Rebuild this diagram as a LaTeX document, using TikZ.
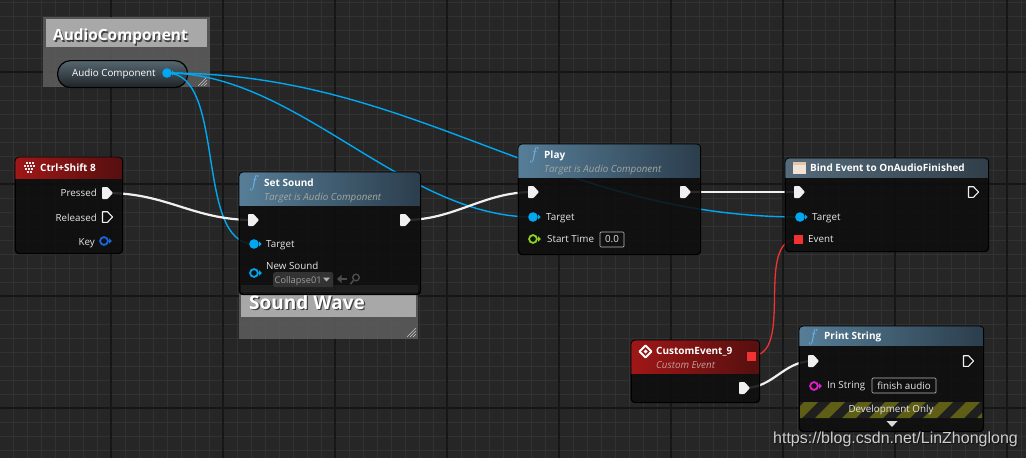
\documentclass[tikz,border=0pt]{standalone}
\usepackage{fontspec}
\setmainfont{Open Sans}
\newfontfamily\wmfont{Liberation Sans}
\usetikzlibrary{calc}
\definecolor{bg}{HTML}{262626}
\definecolor{gridfine}{HTML}{323232}
\definecolor{gridmajor}{HTML}{161616}
\definecolor{pinblue}{HTML}{00A8F2}
\definecolor{keyblue}{HTML}{1A66DC}
\definecolor{floatgreen}{HTML}{8CD41E}
\definecolor{strpink}{HTML}{E21ECE}
\definecolor{evred}{HTML}{F03232}
\definecolor{execw}{HTML}{F0F0F0}
\definecolor{nodebg}{HTML}{0E0E0E}
\definecolor{fnhl}{HTML}{5E88A4}
\definecolor{fnhr}{HTML}{2E4252}
\definecolor{bdhl}{HTML}{5C7384}
\definecolor{bdhr}{HTML}{34434F}
\definecolor{evhl}{HTML}{A81818}
\definecolor{evhr}{HTML}{5A1010}
\definecolor{lblc}{HTML}{E6E6E6}
\definecolor{subc}{HTML}{A2A8A2}
\definecolor{subred}{HTML}{C89A9A}
\definecolor{cmtbody}{HTML}{5E5E5E}
\definecolor{cmttitle}{HTML}{A8A8A8}
\definecolor{ficon}{HTML}{6AB4E8}
\definecolor{stripe}{HTML}{5E5E16}
\definecolor{gripc}{HTML}{C8C8C8}
\definecolor{pilltop}{HTML}{56666F}
\definecolor{pillmid}{HTML}{2C6F96}
\definecolor{pillbot}{HTML}{1E2428}
\begin{document}
\begin{tikzpicture}[x=1pt,y=-1pt,
  gfine/.style={draw=gridfine,line width=0.9pt},
  gmajor/.style={draw=gridmajor,line width=1.4pt},
  bpbody/.style={draw=black,line width=0.8pt,fill=nodebg,fill opacity=0.88,rounded corners=4pt,inner sep=0,anchor=north west},
  ttl/.style={font=\fontsize{10}{12}\selectfont\bfseries,text=white,inner sep=0,anchor=base west},
  sub/.style={font=\fontsize{9.8}{12}\selectfont\itshape,text=subc,inner sep=0,anchor=base west},
  lbl/.style={font=\fontsize{9.8}{12}\selectfont,text=lblc,inner sep=0,anchor=base west},
  lblr/.style={lbl,anchor=base east},
  valbox/.style={draw=white!72!black,line width=0.7pt,rounded corners=1pt,inner sep=0,font=\fontsize{9.8}{12}\selectfont,text=lblc},
  ficonst/.style={font=\fontsize{16}{16}\selectfont,text=ficon,inner sep=0,anchor=base west},
  wblue/.style={draw=pinblue,line width=1.4pt},
  wexec/.style={draw=execw,line width=2.2pt},
  wred/.style={draw=evred,line width=1.3pt},
  execf/.pic={\fill[execw,rounded corners=0.8pt] (-5,-6) -- (0.5,-6) -- (6,0) -- (0.5,6) -- (-5,6) -- cycle;},
  execo/.pic={\draw[execw,line width=1.1pt,line join=round] (-4.5,-5.3) -- (0.5,-5.3) -- (5.5,0) -- (0.5,5.3) -- (-4.5,5.3) -- cycle;},
  dataf/.pic={\fill[#1] (0,0) circle (4.8pt); \fill[#1] (5,-2.6) -- (7.6,0) -- (5,2.6) -- cycle;},
  datao/.pic={\draw[#1,line width=1.8pt] (0,0) circle (3.9pt); \fill[#1] (5.2,-2.6) -- (7.8,0) -- (5.2,2.6) -- cycle;},
  evsq/.pic={\fill[evred] (-4.5,-4.5) rectangle (4.5,4.5);},
  grip/.pic={\foreach \d in {3,6,9}{\draw[gripc,line width=0.6pt] (-\d,0) -- (0,-\d);}}
]
\useasboundingbox (0,0) rectangle (1026,458);
\fill[bg] (0,0) rectangle (1026,458);
% grid
\foreach \gx in {13,27,...,1026} {\draw[gfine] (\gx,0) -- (\gx,458);}
\foreach \gy in {2,16,...,458} {\draw[gfine] (0,\gy) -- (1026,\gy);}
\foreach \gx in {111,223,...,1026} {\draw[gmajor] (\gx,0) -- (\gx,458);}
\foreach \gy in {72,184,296,408} {\draw[gmajor] (0,\gy) -- (1026,\gy);}

% ---------- comment boxes ----------
\fill[cmtbody,opacity=0.85] (43,17) rectangle (210,87);
\fill[cmttitle] (46,19) rectangle (207,47);
\node[font=\fontsize{15.4}{16}\selectfont\bfseries,text=black!75,inner sep=0,anchor=base west] (acshadow) at (54.3,42) {AudioComponent};
\node[font=\fontsize{15.4}{16}\selectfont\bfseries,text=white,inner sep=0,anchor=base west] (actitle) at (53,40.7) {AudioComponent};
\pic at (207,86) {grip};

\fill[cmtbody,opacity=0.85] (239,291) rectangle (418,339);
\fill[cmttitle] (241,295) rectangle (416,317);
\node[font=\fontsize{19}{20}\selectfont\bfseries,text=black!75,inner sep=0,anchor=base west] (swshadow) at (250.3,310.3) {Sound Wave};
\node[font=\fontsize{19}{20}\selectfont\bfseries,text=white,inner sep=0,anchor=base west] (swtitle) at (249,309) {Sound Wave};
\pic at (416,337) {grip};

% ---------- variable getter pill ----------
\node[draw=black,line width=1.2pt,rounded corners=13pt,top color=pilltop,middle color=pillmid,bottom color=pillbot,minimum width=130pt,minimum height=27pt,inner sep=0,anchor=north west] (acvar) at (57,60) {};
\node[lbl,text=white] (acvarlbl) at (72,76.7) {Audio Component};
\coordinate (acpin) at (167,73);
\pic at (acpin) {dataf=pinblue};

% ---------- pin coordinates ----------
\coordinate (pressed) at (107,193);
\coordinate (released) at (107,217);
\coordinate (keypin) at (104,241);
\coordinate (ssin) at (253,220);
\coordinate (ssout) at (405,220);
\coordinate (sstgt) at (254,244);
\coordinate (sssnd) at (254,273);
\coordinate (plin) at (533,192);
\coordinate (plout) at (685,192);
\coordinate (pltgt) at (533,217);
\coordinate (plst) at (533,239);
\coordinate (bdin) at (799,192);
\coordinate (bdout) at (973,192);
\coordinate (bdtgt) at (800,217);
\coordinate (bdev) at (798,239);
\coordinate (ceev) at (751,356);
\coordinate (ceout) at (744,388);
\coordinate (psin) at (813,361);
\coordinate (psout) at (968,361);
\coordinate (psstr) at (814,386);

% ---------- wires ----------
\draw[wblue] (acpin) .. controls +(60,0) and +(-60,0) .. (sstgt);
\draw[wblue] (acpin) .. controls +(130,0) and +(-130,0) .. (pltgt);
\draw[wblue] (acpin) .. controls +(250,0) and +(-250,0) .. (bdtgt);
\draw[wexec] (pressed) .. controls +(60,0) and +(-60,0) .. (ssin);
\draw[wexec] (ssout) .. controls +(50,0) and +(-50,0) .. (plin);
\draw[wexec] (plout) -- (bdin);
\draw[wexec] (ceout) .. controls +(30,0) and +(-30,0) .. (psin);
\draw[wred] (ceev) .. controls +(45,0) and +(-45,0) .. (bdev);

% ---------- Ctrl+Shift 8 ----------
\node[bpbody,minimum width=107pt,minimum height=96pt] (ks) at (15,157) {};
\begin{scope}
\clip[rounded corners=4pt] (ks.north west) rectangle (ks.south east);
\shade[left color=evhl,right color=evhr,opacity=0.95] (ks.north west) rectangle ++(107,21);
\end{scope}
\draw[black,line width=0.8pt,rounded corners=4pt] (ks.north west) rectangle (ks.south east);
\foreach \cx/\cy in {26/162,29/162,32/162,24/165,27/165,30/165,33/165,25/168,28/168,31/168,27/171,30/171}
  {\fill[white!92!black] (\cx,\cy) rectangle ++(2.2,2.2);}
\node[ttl] (kstitle) at (40,171.7) {Ctrl+Shift 8};
\node[lblr] (kspressed) at (97,196.7) {Pressed};
\node[lblr] (ksreleased) at (97,221) {Released};
\node[lblr] (kskey) at (95,245) {Key};
\pic at (pressed) {execf};
\pic at (released) {execo};
\pic at (keypin) {datao=keyblue};

% ---------- Set Sound ----------
\node[bpbody,minimum width=181pt,minimum height=122pt] (ss) at (239,172) {};
\begin{scope}
\clip[rounded corners=4pt] (ss.north west) rectangle (ss.south east);
\shade[left color=fnhl,right color=fnhr,opacity=0.92] (ss.north west) rectangle ++(181,33);
\fill[white,opacity=0.06] (241,285) rectangle (418,292);
\end{scope}
\draw[black,line width=0.8pt,rounded corners=4pt] (ss.north west) rectangle (ss.south east);
\node[ficonst] (ssf) at (249,187) {$f$};
\node[ttl] (sstitle) at (264,186) {Set Sound};
\node[sub] (sssub) at (264,200.7) {Target is Audio Component};
\node[lbl] (sstgtlbl) at (266,247.7) {Target};
\node[lbl] (sssndlbl) at (266,269) {New Sound};
\node[fill=white!20!black,rounded corners=2pt,minimum width=60pt,minimum height=15pt,inner sep=0,anchor=north west] (sscol) at (273,272) {};
\node[font=\fontsize{9.2}{11}\selectfont,text=white!62!black,inner sep=0,anchor=base west] (sscoltxt) at (274.5,283) {Collapse01};
\fill[white!70!black] (323,277.5) -- (330,277.5) -- (326.5,281.5) -- cycle;
\draw[white!30!black,line width=1.6pt] (347,279) -- (340,279);
\fill[white!30!black] (337,279) -- (341.5,275) -- (341.5,283) -- cycle;
\draw[white!30!black,line width=1.4pt] (356,277.5) circle (3.3pt);
\draw[white!30!black,line width=1.6pt] (353.5,280.5) -- (350.5,284);
\pic at (ssin) {execf};
\pic at (ssout) {execf};
\pic at (sstgt) {dataf=pinblue};
\pic at (sssnd) {datao=pinblue};

% ---------- Play ----------
\node[bpbody,minimum width=182pt,minimum height=110pt] (pl) at (518,144) {};
\begin{scope}
\clip[rounded corners=4pt] (pl.north west) rectangle (pl.south east);
\shade[left color=fnhl,right color=fnhr,opacity=0.92] (pl.north west) rectangle ++(182,33);
\end{scope}
\draw[black,line width=0.8pt,rounded corners=4pt] (pl.north west) rectangle (pl.south east);
\node[ficonst] (plf) at (529,159) {$f$};
\node[ttl] (pltitle) at (544,158.3) {Play};
\node[sub] (plsub) at (544,172.7) {Target is Audio Component};
\node[lbl] (pltgtlbl) at (546,220) {Target};
\node[lbl] (plstlbl) at (547,242.3) {Start Time};
\node[valbox,minimum width=24pt,minimum height=15pt] (plval) at (612,239.5) {0.0};
\pic at (plin) {execf};
\pic at (plout) {execf};
\pic at (pltgt) {dataf=pinblue};
\pic at (plst) {datao=floatgreen};

% ---------- Bind Event ----------
\node[bpbody,minimum width=203pt,minimum height=93pt] (bd) at (785,158) {};
\begin{scope}
\clip[rounded corners=4pt] (bd.north west) rectangle (bd.south east);
\shade[left color=bdhl,right color=bdhr,opacity=0.92] (bd.north west) rectangle ++(203,19);
\end{scope}
\draw[black,line width=0.8pt,rounded corners=4pt] (bd.north west) rectangle (bd.south east);
\fill[white!78!brown] (793,162) rectangle (806,174);
\fill[white!55!brown] (793,162) rectangle (806,165);
\node[ttl] (bdtitle) at (810,171.7) {Bind Event to OnAudioFinished};
\node[lbl] (bdtgtlbl) at (812,220) {Target};
\node[lbl] (bdevlbl) at (808,242.7) {Event};
\pic at (bdin) {execf};
\pic at (bdout) {execo};
\pic at (bdtgt) {dataf=pinblue};
\pic at (bdev) {evsq};

% ---------- CustomEvent_9 ----------
\node[bpbody,minimum width=128pt,minimum height=62pt] (ce) at (631,340) {};
\begin{scope}
\clip[rounded corners=4pt] (ce.north west) rectangle (ce.south east);
\shade[left color=evhl,right color=evhr,opacity=0.95] (ce.north west) rectangle ++(128,33);
\end{scope}
\draw[black,line width=0.8pt,rounded corners=4pt] (ce.north west) rectangle (ce.south east);
\draw[white,line width=1.8pt,line join=round] (645.5,345.5) -- (651.5,351.5) -- (645.5,357.5) -- (639.5,351.5) -- cycle;
\fill[white] (645.5,349.5) -- (647.5,351.5) -- (645.5,353.5) -- (643.5,351.5) -- cycle;
\node[ttl] (cetitle) at (656,354) {CustomEvent\_9};
\node[sub,text=subred] (cesub) at (656,368.3) {Custom Event};
\pic at (ceev) {evsq};
\pic at (ceout) {execf};

% ---------- Print String ----------
\node[bpbody,minimum width=184pt,minimum height=105pt] (ps) at (799,326) {};
\begin{scope}
\clip[rounded corners=4pt] (ps.north west) rectangle (ps.south east);
\shade[left color=fnhl,right color=fnhr,opacity=0.92] (ps.north west) rectangle ++(184,19);
\end{scope}
\draw[black,line width=0.8pt,rounded corners=4pt] (ps.north west) rectangle (ps.south east);
\begin{scope}
\clip (800,402) rectangle (982,418);
\fill[black!88] (800,402) rectangle (982,418);
\foreach \i in {0,...,8} {\fill[stripe] ({788+27*\i},418) -- ({802+27*\i},418) -- ({818+27*\i},402) -- ({804+27*\i},402) -- cycle;}
\end{scope}
\node[ficonst] (psf) at (808,341) {$f$};
\node[ttl] (pstitle) at (824,339.3) {Print String};
\node[lbl] (psstrlbl) at (827,388.3) {In String};
\node[valbox,minimum width=64pt,minimum height=15pt] (psval) at (904,385.5) {finish audio};
\node[lbl,anchor=base] (psdev) at (891,412.7) {Development Only};
\fill[white!85!black] (886.5,421) -- (897.5,421) -- (892,427) -- cycle;
\pic at (psin) {execf};
\pic at (psout) {execo};
\pic at (psstr) {datao=strpink};

% ---------- watermark ----------
\node[font=\wmfont\fontsize{16}{18}\selectfont,text=black,text opacity=0.5,inner sep=0,anchor=base west] (wmshadow) at (774,444.3) {https://blog.csdn.net/LinZhonglong};
\node[font=\wmfont\fontsize{16}{18}\selectfont,text=white,text opacity=0.78,inner sep=0,anchor=base west] (wm) at (773,443.3) {https://blog.csdn.net/LinZhonglong};
\end{tikzpicture}
\end{document}
